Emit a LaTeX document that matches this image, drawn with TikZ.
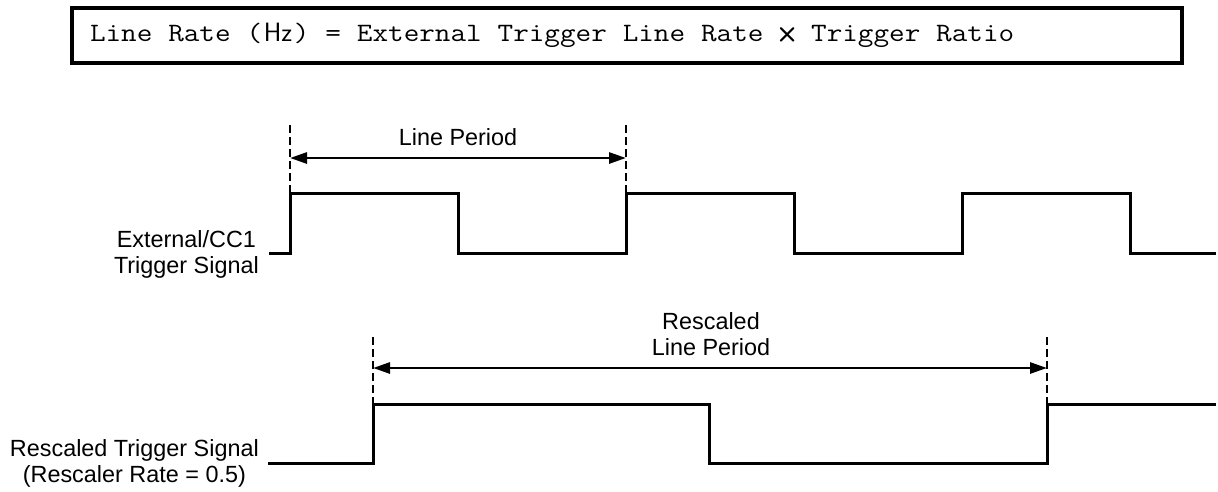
\documentclass[tikz,border=0pt]{standalone}
\usepackage{fontspec}
\setmainfont{Liberation Sans}
\newfontfamily\formulafont{Latin Modern Mono}[FakeStretch=1.143]
\usetikzlibrary{arrows.meta}
\begin{document}
\begin{tikzpicture}[x=1pt,y=-1pt,
  sig/.style={line width=3pt, line join=miter},
  guide/.style={line width=2.5pt, dash pattern=on 8pt off 4pt},
  dim/.style={line width=2.8pt, {Triangle[length=17pt,width=11pt]}-{Triangle[length=17pt,width=11pt]}},
  lab/.style={inner sep=0pt, align=center, font=\fontsize{23.4}{26}\selectfont},
  formulabox/.style={draw, line width=3.5pt, text width=1074pt, inner xsep=18pt, inner ysep=0pt, minimum height=55pt, align=left, font=\formulafont\fontsize{26.5}{30}\selectfont}
]
\useasboundingbox (0,0) rectangle (1218,491);

\node[formulabox] (formula) at (627,35.5) {\spaceskip=15.9pt\relax\xspaceskip=15.9pt\relax Line Rate (\makebox[31.8pt]{\sffamily Hz}) = External Trigger Line Rate \makebox[15.9pt]{\sffamily\bfseries ×} Trigger Ratio};

% labels
\node[lab, anchor=east] (ext) at (259,254) {External/CC1\\Trigger Signal};
\node[lab, anchor=east] (res) at (259,463) {Rescaled Trigger Signal\\(Rescaler Rate = 0.5)};
\node[lab] (lp1) at (458,137) {Line Period};
\node[lab] (lp2) at (711,334) {Rescaled\\Line Period};

% guide coordinates
\coordinate (g1t) at (290,125); \coordinate (g1b) at (290,193);
\coordinate (g2t) at (626,125); \coordinate (g2b) at (626,193);
\coordinate (a1l) at (290,158); \coordinate (a1r) at (626,158);
\coordinate (g3t) at (373,337); \coordinate (g3b) at (373,404);
\coordinate (g4t) at (1047,337); \coordinate (g4b) at (1047,404);
\coordinate (a2l) at (373,368); \coordinate (a2r) at (1047,368);

% signal 1
\draw[sig] (269,253) -- (290,253) -- (290,193) -- (458,193) -- (458,253) -- (626,253) -- (626,193) -- (794,193) -- (794,253) -- (962,253) -- (962,193) -- (1130,193) -- (1130,253) -- (1216,253);
\draw[guide] (g1t) -- (g1b);
\draw[guide] (g2t) -- (g2b);
\draw[dim] (a1l) -- (a1r);

% signal 2
\draw[sig] (268,463) -- (373,463) -- (373,404) -- (709,404) -- (709,463) -- (1047,463) -- (1047,404) -- (1216,404);
\draw[guide] (g3t) -- (g3b);
\draw[guide] (g4t) -- (g4b);
\draw[dim] (a2l) -- (a2r);
\end{tikzpicture}
\end{document}
